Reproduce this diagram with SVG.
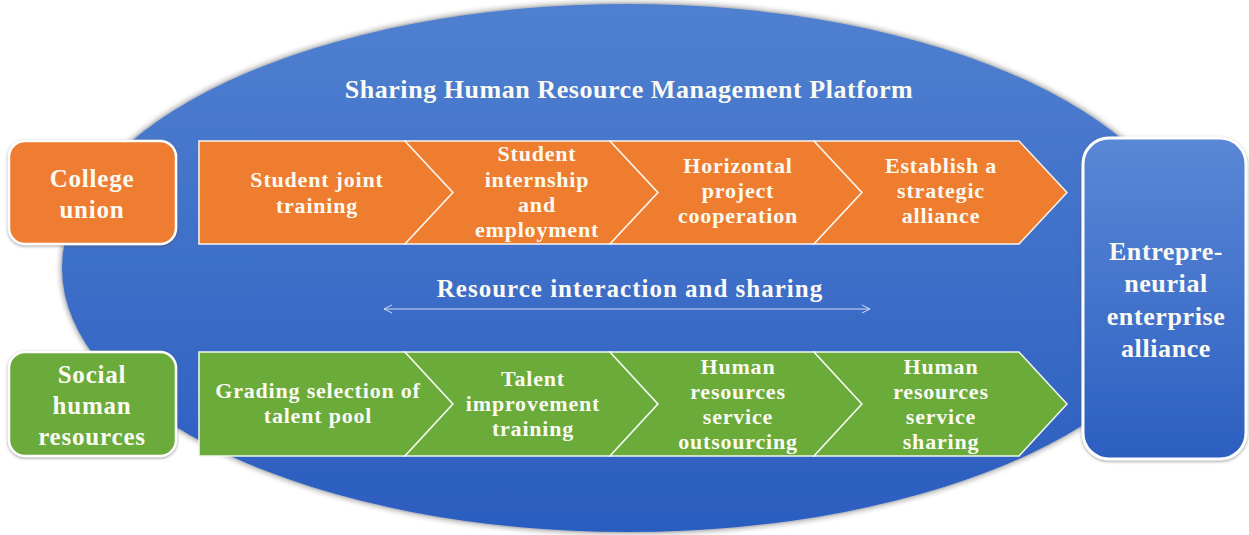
<svg xmlns="http://www.w3.org/2000/svg" width="1249" height="535" viewBox="0 0 1249 535">
<defs>
<linearGradient id="ellG" x1="0" y1="0" x2="0" y2="1">
<stop offset="0" stop-color="#5080d0"/>
<stop offset="1" stop-color="#2b5dc0"/>
</linearGradient>
<linearGradient id="boxG" x1="0" y1="0" x2="0" y2="1">
<stop offset="0" stop-color="#5a88d6"/>
<stop offset="1" stop-color="#2c5fc1"/>
</linearGradient>
<filter id="sh" x="-10%" y="-10%" width="120%" height="120%">
<feDropShadow dx="0" dy="0" stdDeviation="3" flood-color="#222" flood-opacity="0.7"/>
</filter>
<filter id="bsh" x="-10%" y="-10%" width="120%" height="120%">
<feDropShadow dx="0" dy="1" stdDeviation="1.5" flood-color="#555" flood-opacity="0.6"/>
</filter>
<marker id="open" viewBox="0 0 10 10" refX="9" refY="5" markerWidth="10" markerHeight="10" markerUnits="userSpaceOnUse" orient="auto-start-reverse">
<path d="M1,1 L9,5 L1,9" fill="none" stroke="#d0dcf2" stroke-width="1"/>
</marker>
<style>
text{font-family:"Liberation Serif","Times New Roman",serif;font-weight:bold;fill:#fbfaf2;text-anchor:middle}
.tt{font-size:26px;letter-spacing:0.55px}
.ts{font-size:25px;letter-spacing:0.8px}
.tc{font-size:22px;letter-spacing:0.8px}
.tr{font-size:25px;letter-spacing:1px}
.te{font-size:26px;letter-spacing:0.6px}
.or{fill:#ee7d30;stroke:#fbf3ea;stroke-width:1.5}
.gr{fill:#6aab3a;stroke:#f3f8ee;stroke-width:1.5}
.side{stroke:#ffffff;stroke-width:2.5}
</style>
</defs>

<g id="platform">
<ellipse cx="628" cy="268" rx="566" ry="264" fill="url(#ellG)" filter="url(#sh)"/>
<text class="tt" x="629" y="98">Sharing Human Resource Management Platform</text>
</g>

<g id="college-union">
<rect x="9" y="141" width="167" height="103" rx="16" fill="#ee7d30" class="side" filter="url(#bsh)"/>
<text class="ts" x="92" y="187">College</text>
<text class="ts" x="92" y="218">union</text>
</g>

<g id="social-hr">
<rect x="9" y="352" width="167" height="104" rx="16" fill="#6aab3a" class="side" filter="url(#bsh)"/>
<text class="ts" x="92" y="383">Social</text>
<text class="ts" x="92" y="414">human</text>
<text class="ts" x="92" y="445">resources</text>
</g>

<g id="enterprise-alliance">
<rect x="1083" y="138" width="163" height="321" rx="26" fill="url(#boxG)" stroke="#ffffff" stroke-width="3" filter="url(#bsh)"/>
<text class="te" x="1166" y="260">Entrepre-</text>
<text class="te" x="1166" y="292">neurial</text>
<text class="te" x="1166" y="325">enterprise</text>
<text class="te" x="1166" y="357">alliance</text>
</g>

<g id="o1">
<polygon class="or" points="199,141 405,141 453,192.5 405,244 199,244"/>
<text class="tc" x="317" y="187">Student joint</text>
<text class="tc" x="317" y="213">training</text>
</g>
<g id="o2">
<polygon class="or" points="405,141 610,141 658,192.5 610,244 405,244 453,192.5"/>
<text class="tc" x="537" y="161">Student</text>
<text class="tc" x="537" y="187">internship</text>
<text class="tc" x="537" y="212">and</text>
<text class="tc" x="537" y="237">employment</text>
</g>
<g id="o3">
<polygon class="or" points="610,141 814,141 862,192.5 814,244 610,244 658,192.5"/>
<text class="tc" x="738" y="173">Horizontal</text>
<text class="tc" x="738" y="198">project</text>
<text class="tc" x="738" y="223">cooperation</text>
</g>
<g id="o4">
<polygon class="or" points="814,141 1019,141 1067,192.5 1019,244 814,244 862,192.5"/>
<text class="tc" x="941" y="173">Establish a</text>
<text class="tc" x="941" y="198">strategic</text>
<text class="tc" x="941" y="223">alliance</text>
</g>

<g id="g1">
<polygon class="gr" points="199,352 405,352 453,404 405,456 199,456"/>
<text class="tc" x="318" y="398">Grading selection of</text>
<text class="tc" x="318" y="423">talent pool</text>
</g>
<g id="g2">
<polygon class="gr" points="405,352 610,352 658,404 610,456 405,456 453,404"/>
<text class="tc" x="533" y="386">Talent</text>
<text class="tc" x="533" y="411">improvement</text>
<text class="tc" x="533" y="436">training</text>
</g>
<g id="g3">
<polygon class="gr" points="610,352 814,352 862,404 814,456 610,456 658,404"/>
<text class="tc" x="738" y="374">Human</text>
<text class="tc" x="738" y="399">resources</text>
<text class="tc" x="738" y="424">service</text>
<text class="tc" x="738" y="449">outsourcing</text>
</g>
<g id="g4">
<polygon class="gr" points="814,352 1019,352 1067,404 1019,456 814,456 862,404"/>
<text class="tc" x="941" y="374">Human</text>
<text class="tc" x="941" y="399">resources</text>
<text class="tc" x="941" y="424">service</text>
<text class="tc" x="941" y="449">sharing</text>
</g>

<g id="connectors">
<line x1="384" y1="309" x2="870" y2="309" stroke="#d0dcf2" stroke-width="1.2" marker-start="url(#open)" marker-end="url(#open)"/>
<text class="tr" x="630" y="297">Resource interaction and sharing</text>
</g>
</svg>
